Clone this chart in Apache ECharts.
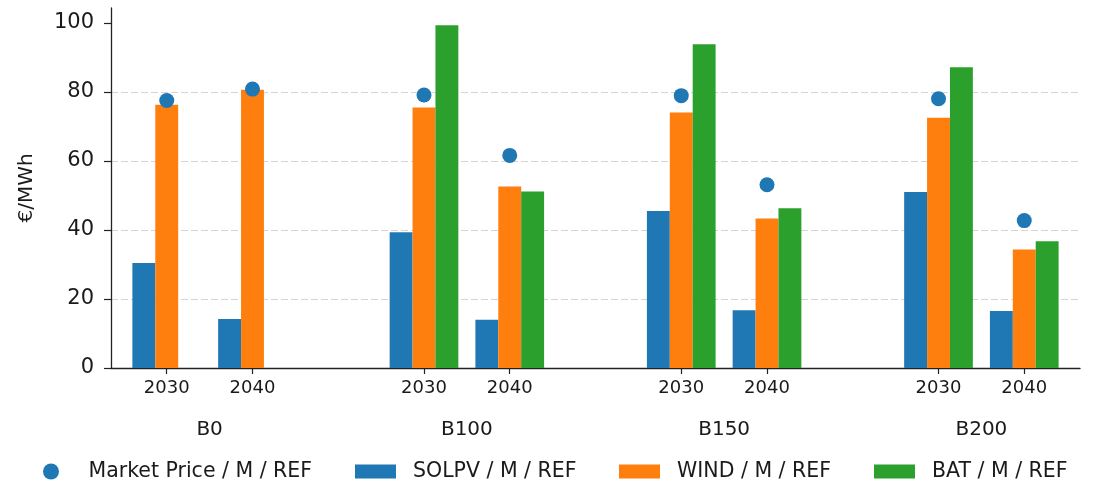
<!DOCTYPE html>
<html>
<head>
<meta charset="utf-8">
<script src="https://cdn.jsdelivr.net/npm/echarts@6/dist/echarts.min.js"></script>
<style>
  html, body { margin: 0; padding: 0; background: #ffffff; }
  #chart { width: 1094px; height: 484px; }
</style>
</head>
<body>
<div id="chart"></div>
<script>
// Scenario groups and years inside each group
const groups = ['B0', 'B100', 'B150', 'B200'];
const years = ['2030', '2040'];

// Values in €/MWh, one entry per (group, year) slot, in group order
const marketPrice = [77.5, 80.8, 79.1, 61.6, 78.9, 53.1, 78.0, 42.7];
const solpv       = [30.4, 14.2, 39.3, 14.0, 45.5, 16.7, 51.0, 16.5];
const wind        = [76.3, 80.6, 75.5, 52.6, 74.0, 43.3, 72.5, 34.3];
const bat         = [null, null, 99.3, 51.1, 93.8, 46.3, 87.1, 36.7];

const yTicks = [0, 20, 40, 60, 80, 100];

const FONT = 'DejaVu Sans';
const INK = '#1a1a1a';
const COLORS = { price: '#1f77b4', solpv: '#1f77b4', wind: '#ff7f0e', bat: '#2ca02c' };

// Each group takes three x units: two year slots and one empty spacer
const slotX = (i) => Math.floor(i / years.length) * 3 + (i % years.length);
const slotPositions = marketPrice.map((_, i) => slotX(i));
const groupCenters = groups.map((_, g) => g * 3 + (years.length - 1) / 2);

const toPairs = (arr) => arr
  .map((v, i) => (v == null ? null : [slotX(i), v]))
  .filter((p) => p !== null);

const yearOf = (v) => {
  const i = slotPositions.findIndex((p) => Math.abs(p - v) < 1e-6);
  return i < 0 ? '' : years[i % years.length];
};
const groupOf = (v) => {
  const g = groupCenters.findIndex((c) => Math.abs(c - v) < 1e-6);
  return g < 0 ? '' : groups[g];
};

const X_MIN = -0.65, X_MAX = 10.65;
const BAR_W = 22.9;

const legendBase = {
  orient: 'horizontal',
  top: 456,
  itemWidth: 41,
  itemHeight: 14,
  selectedMode: false,
  textStyle: { fontFamily: FONT, fontSize: 20.5, color: INK, padding: [0, 0, 0, 12] }
};

const chart = echarts.init(document.getElementById('chart'), null, { renderer: 'canvas' });

chart.setOption({
  animation: false,
  backgroundColor: '#ffffff',
  textStyle: { fontFamily: FONT },
  grid: { left: 111, right: 14, top: 8, bottom: 116, containLabel: false },
  legend: [
    Object.assign({}, legendBase, { left: 38, itemHeight: 16, data: [{ name: 'Market Price / M / REF', icon: 'circle' }] }),
    Object.assign({}, legendBase, { left: 350, data: [{ name: 'SOLPV / M / REF', icon: 'rect' }] }),
    Object.assign({}, legendBase, { left: 614, data: [{ name: 'WIND / M / REF', icon: 'rect' }] }),
    Object.assign({}, legendBase, { left: 869, data: [{ name: 'BAT / M / REF', icon: 'rect' }] })
  ],
  xAxis: [
    {
      type: 'value',
      min: X_MIN,
      max: X_MAX,
      position: 'bottom',
      axisLine: { show: true, onZero: false, lineStyle: { color: '#222', width: 1.3 } },
      axisTick: { show: true, customValues: slotPositions, length: 6, lineStyle: { color: '#222', width: 1.2 } },
      axisLabel: {
        show: true,
        customValues: slotPositions,
        formatter: yearOf,
        margin: 11,
        fontFamily: FONT,
        fontSize: 18,
        color: INK
      },
      splitLine: { show: false }
    },
    {
      type: 'value',
      min: X_MIN,
      max: X_MAX,
      position: 'bottom',
      axisLine: { show: false, onZero: false },
      axisTick: { show: false },
      axisLabel: {
        show: true,
        customValues: groupCenters,
        formatter: groupOf,
        margin: 52,
        fontFamily: FONT,
        fontSize: 20,
        color: INK
      },
      splitLine: { show: false }
    }
  ],
  yAxis: {
    type: 'value',
    min: 0,
    max: 104.3,
    interval: 20,
    name: '€/MWh',
    nameLocation: 'middle',
    nameGap: 74,
    nameTextStyle: { fontFamily: FONT, fontSize: 20, color: INK },
    axisLine: { show: true, onZero: false, lineStyle: { color: '#222', width: 1.3 } },
    axisTick: { show: true, customValues: yTicks, length: 7, lineStyle: { color: '#222', width: 1.2 } },
    axisLabel: {
      customValues: yTicks,
      margin: 17,
      fontFamily: FONT,
      fontSize: 21,
      color: INK
    },
    splitLine: {
      show: true,
      showMinLine: false,
      showMaxLine: false,
      lineStyle: { color: '#d4d4d4', width: 1.2, type: [7, 3] }
    }
  },
  series: [
    {
      name: 'SOLPV / M / REF',
      type: 'bar',
      xAxisIndex: 0,
      barWidth: BAR_W,
      barGap: '0%',
      itemStyle: { color: COLORS.solpv },
      data: toPairs(solpv)
    },
    {
      name: 'WIND / M / REF',
      type: 'bar',
      xAxisIndex: 0,
      barWidth: BAR_W,
      barGap: '0%',
      itemStyle: { color: COLORS.wind },
      data: toPairs(wind)
    },
    {
      name: 'BAT / M / REF',
      type: 'bar',
      xAxisIndex: 0,
      barWidth: BAR_W,
      barGap: '0%',
      itemStyle: { color: COLORS.bat },
      data: toPairs(bat)
    },
    {
      name: 'Market Price / M / REF',
      type: 'scatter',
      xAxisIndex: 0,
      symbol: 'circle',
      symbolSize: 15,
      z: 5,
      itemStyle: { color: COLORS.price, opacity: 1 },
      data: toPairs(marketPrice)
    }
  ]
});
</script>
</body>
</html>
